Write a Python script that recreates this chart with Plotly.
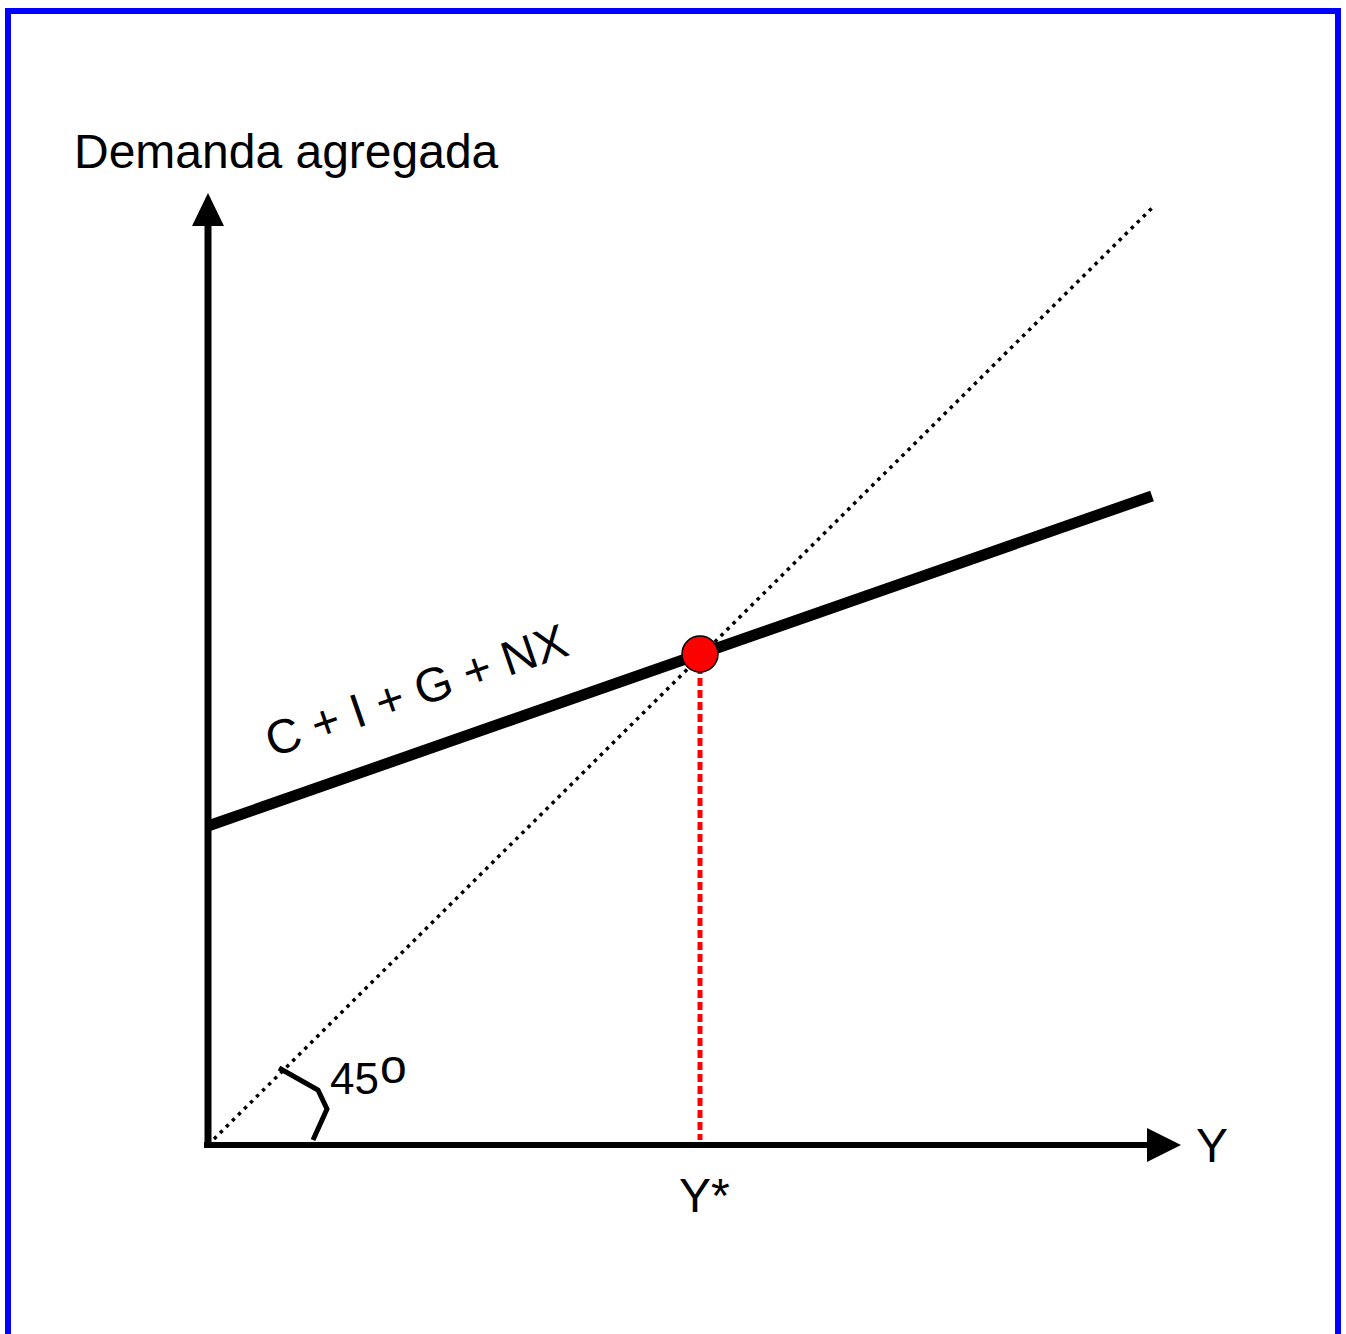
import plotly.graph_objects as go

# Linien im Diagramm (Einheiten: Ursprung = Schnittpunkt der Achsen)
ad_x = [0, 944]          # C + I + G + NX
ad_y = [319, 649]
diag_x = [0, 945]        # 45-Grad-Linie
diag_y = [0, 938]
eq_x = [492]             # Gleichgewicht Y*
eq_y = [491]
angle_x = [71, 110, 119, 105]   # Winkelmarke 45o
angle_y = [77, 55, 36, 5]

FONT = "Arial, Liberation Sans, sans-serif"

fig = go.Figure()

# 45-Grad-Linie (gepunktet)
fig.add_trace(go.Scatter(x=diag_x, y=diag_y, mode="lines",
                         line=dict(color="black", width=3.5, dash="3.5px,5px")))
# Nachfragekurve
fig.add_trace(go.Scatter(x=ad_x, y=ad_y, mode="lines",
                         line=dict(color="black", width=11)))
# rote Hilfslinie bis zur Achse
fig.add_trace(go.Scatter(x=[eq_x[0], eq_x[0]], y=[eq_y[0], 5], mode="lines",
                         line=dict(color="#ff0000", width=5, dash="8px,4px")))
# Winkelmarke
fig.add_trace(go.Scatter(x=angle_x, y=angle_y, mode="lines",
                         line=dict(color="black", width=5)))
# Gleichgewichtspunkt
fig.add_trace(go.Scatter(x=eq_x, y=eq_y, mode="markers",
                         marker=dict(color="#ff0000", size=36,
                                     line=dict(color="black", width=1.5))))

# Achsen mit Pfeilspitzen
fig.add_shape(type="line", x0=0, y0=-3, x1=0, y1=920,
              line=dict(color="black", width=7))
fig.add_shape(type="line", x0=-4, y0=0, x1=940, y1=0,
              line=dict(color="black", width=6))
fig.add_shape(type="path", path="M -16 919 L 16 919 L 0 952 Z",
              fillcolor="black", line=dict(width=0))
fig.add_shape(type="path", path="M 939 17 L 939 -17 L 973 0 Z",
              fillcolor="black", line=dict(width=0))

# blauer Rahmen
fig.add_shape(type="rect", xref="paper", yref="paper",
              x0=8 / 1346, x1=1338 / 1346, y0=-0.01, y1=1 - 11 / 1334,
              line=dict(color="#0000ff", width=6))

ann = dict(showarrow=False, font=dict(family=FONT, size=48, color="black"))
fig.add_annotation(x=-136, y=994, text="Demanda agregada",
                   xanchor="left", yanchor="middle", **ann)
fig.add_annotation(x=986, y=0, text="Y", xanchor="left", yanchor="middle", **ann)
fig.add_annotation(x=496, y=-50, text="Y*", xanchor="center", yanchor="middle", **ann)
fig.add_annotation(x=173, y=67, text="45", xanchor="right", yanchor="middle",
                   showarrow=False, font=dict(family=FONT, size=44, color="black"))
fig.add_annotation(x=170, y=79, text="o", xanchor="left", yanchor="middle",
                   showarrow=False, font=dict(family=FONT, size=48, color="black"))
fig.add_annotation(x=208, y=455, text="C + I + G + NX", textangle=-19,
                   xanchor="center", yanchor="middle", **ann)

fig.update_layout(
    width=1346, height=1334,
    margin=dict(l=0, r=0, t=0, b=0),
    paper_bgcolor="white", plot_bgcolor="white",
    showlegend=False,
    xaxis=dict(range=[-208, 1138], visible=False, fixedrange=True),
    yaxis=dict(range=[-189, 1145], visible=False, fixedrange=True),
)

# Seitenrand des Browsers entfernen, damit das Bild bei (0, 0) beginnt
fig.write_html("out.html", config={"displayModeBar": False},
               post_script="document.body.style.margin='0';")
